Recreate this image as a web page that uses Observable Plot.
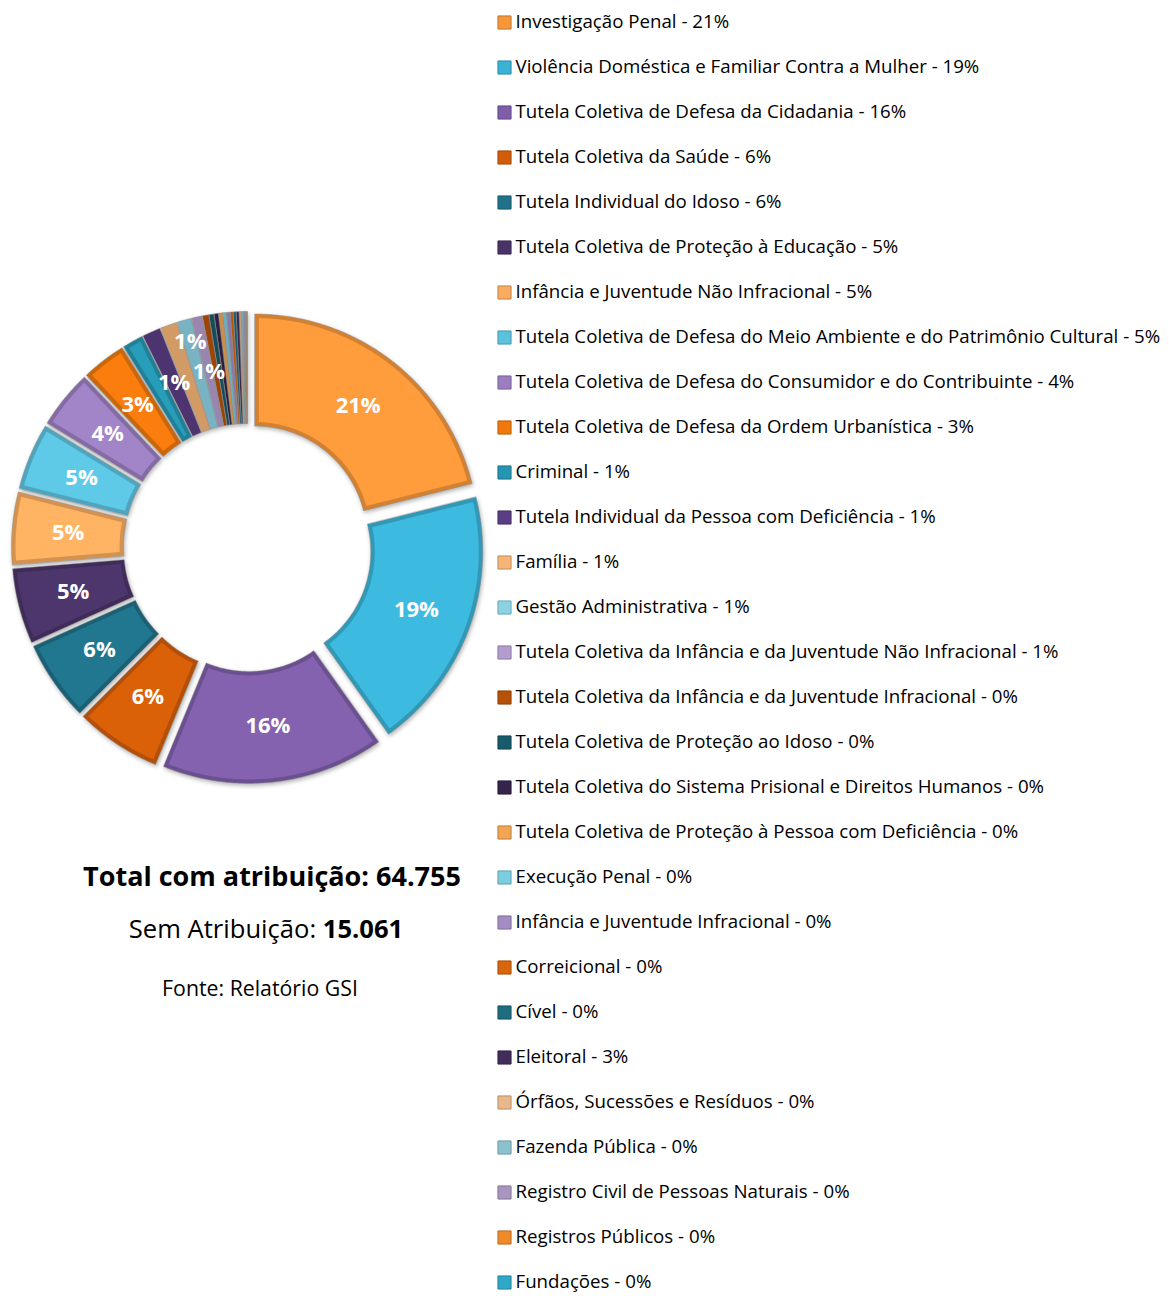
<!DOCTYPE html>
<html><head><meta charset="utf-8">
<script src="https://cdn.jsdelivr.net/npm/d3@7"></script>
<script src="https://cdn.jsdelivr.net/npm/@observablehq/plot@0.6"></script>
<style>
body{margin:0;background:#fff;}
#root{position:relative;width:1169px;height:1296px;overflow:hidden;background:#fff;font-family:"Open Sans",Lato,sans-serif;color:#000}
.cap{position:absolute;white-space:nowrap;transform:translateX(-50%);line-height:1}
</style></head><body>
<div id="root">
  <div id="donut" style="position:absolute;left:0;top:300px"></div>
  <div id="legend" style="position:absolute;left:490px;top:0"></div>
  <div class="cap" id="cap1" style="left:272px;top:862px;font-size:27px;font-weight:700"></div>
  <div class="cap" id="cap2" style="left:266px;top:916px;font-size:25.6px"></div>
  <div class="cap" id="cap3" style="left:260px;top:977px;font-size:21.3px"></div>
</div>
<script>
// ---- data ----
const categories = [
  "Investigação Penal",
  "Violência Doméstica e Familiar Contra a Mulher",
  "Tutela Coletiva de Defesa da Cidadania",
  "Tutela Coletiva da Saúde",
  "Tutela Individual do Idoso",
  "Tutela Coletiva de Proteção à Educação",
  "Infância e Juventude Não Infracional",
  "Tutela Coletiva de Defesa do Meio Ambiente e do Patrimônio Cultural",
  "Tutela Coletiva de Defesa do Consumidor e do Contribuinte",
  "Tutela Coletiva de Defesa da Ordem Urbanística",
  "Criminal",
  "Tutela Individual da Pessoa com Deficiência",
  "Família",
  "Gestão Administrativa",
  "Tutela Coletiva da Infância e da Juventude Não Infracional",
  "Tutela Coletiva da Infância e da Juventude Infracional",
  "Tutela Coletiva de Proteção ao Idoso",
  "Tutela Coletiva do Sistema Prisional e Direitos Humanos",
  "Tutela Coletiva de Proteção à Pessoa com Deficiência",
  "Execução Penal",
  "Infância e Juventude Infracional",
  "Correicional",
  "Cível",
  "Eleitoral",
  "Órfãos, Sucessões e Resíduos",
  "Fazenda Pública",
  "Registro Civil de Pessoas Naturais",
  "Registros Públicos",
  "Fundações"
];
const legendPercents = ["21%","19%","16%","6%","6%","5%","5%","5%","4%","3%","1%","1%","1%","1%","1%","0%","0%","0%","0%","0%","0%","0%","0%","3%","0%","0%","0%","0%","0%"];
// estimated shares (percent)
const sliceValues = [21.0,19.0,16.0,6.2,5.8,5.4,5.2,4.8,4.2,3.2,1.5,1.3,1.2,1.0,0.75,0.45,0.35,0.3,0.3,0.25,0.25,0.2,0.2,0.2,0.15,0.15,0.1,0.1,0.05];
const sliceLabels = ["21%","19%","16%","6%","6%","5%","5%","5%","4%","3%","","1%","","1%","1%","","","","","","","","","","","","","",""];
const palette = ["#F7963A","#3AB2D6","#7E5EA8","#D25D09","#1F7289","#4A3467","#F9AC5F","#5BC2DE","#9B7EC0",
  "#F0780C","#2596B2","#5A3D83","#F6B577","#8CD2E5","#B39DCF","#B85108","#175A6B","#35244B",
  "#F2A553","#7DCDE0","#A48DC4","#D9650C","#1E6C80","#412C5C","#E9B88A","#8CC2CF","#A996C0","#EE8A2A","#2FA8C8"];
const totalLine = ["Total com atribuição: ", "64.755"];
const semLine = ["Sem Atribuição: ", "15.061"];
const sourceLine = "Fonte: Relatório GSI";

// ---- captions ----
document.getElementById("cap1").textContent = totalLine.join("");
document.getElementById("cap2").innerHTML = semLine[0] + "<b>" + semLine[1] + "</b>";
document.getElementById("cap3").textContent = sourceLine;

// ---- donut geometry (unit radius) ----
const rows = categories.map((name, i) => ({name, value: sliceValues[i], color: palette[i], label: sliceLabels[i], pct: legendPercents[i]}));
const R = 1, RIN = 0.5, EXPL = 12 / 224, INSET = 4 / 224;
const arcs = d3.pie().sort(null).value(d => d.value)(rows);

function ringPolygon(a0o, a1o, a0i, a1i, rin, rout, mid, off) {
  const ox = off * Math.sin(mid), oy = -off * Math.cos(mid);
  const pts = [];
  const no = Math.max(2, Math.ceil((a1o - a0o) / (Math.PI / 360)));
  for (let k = 0; k <= no; k++) { const a = a0o + (a1o - a0o) * k / no; pts.push([ox + rout * Math.sin(a), oy - rout * Math.cos(a)]); }
  const ni = Math.max(2, Math.ceil((a1i - a0i) / (Math.PI / 360)));
  for (let k = ni; k >= 0; k--) { const a = a0i + (a1i - a0i) * k / ni; pts.push([ox + rin * Math.sin(a), oy - rin * Math.cos(a)]); }
  pts.push(pts[0]);
  return {type: "Polygon", coordinates: [pts]};
}

const slices = arcs.map(a => {
  const mid = (a.startAngle + a.endAngle) / 2;
  return {...a.data, mid, geom: ringPolygon(a.startAngle, a.endAngle, a.startAngle, a.endAngle, RIN, R, mid, EXPL),
    edge: d3.color(a.data.color).darker(0.45).formatHex()};
});
const inner = arcs.filter(a => (a.endAngle - a.startAngle) * (RIN + INSET) > 2.6 * INSET).map(a => {
  const mid = (a.startAngle + a.endAngle) / 2;
  const ro = R - INSET, ri = RIN + INSET;
  const g = ringPolygon(a.startAngle + INSET / ro, a.endAngle - INSET / ro, a.startAngle + INSET / ri, a.endAngle - INSET / ri, ri, ro, mid, EXPL);
  return {color: d3.color(a.data.color).brighter(0.12).formatHex(), geom: g};
});

// labels with simple collision push-out
const labelR = (R + RIN) / 2 + EXPL, outerR = 0.9 + EXPL, minDist = 30 / 224;
const placed = [];
for (const s of slices) {
  if (!s.label) continue;
  let p = [labelR * Math.sin(s.mid), -labelR * Math.cos(s.mid)];
  if (placed.some(q => Math.hypot(q.x - p[0], q.y - p[1]) < minDist)) p = [outerR * Math.sin(s.mid), -outerR * Math.cos(s.mid)];
  placed.push({x: p[0], y: p[1], label: s.label});
}

const D = 247 / 224;
const donut = Plot.plot({
  width: 494, height: 494, margin: 0,
  projection: {type: "identity", domain: {type: "MultiPoint", coordinates: [[-D, -D], [D, D]]}},
  color: {type: "identity"},
  marks: [
    Plot.geo(slices, {geometry: d => d.geom, fill: d => d.edge, stroke: "#8a8a8a", strokeWidth: 0.6, strokeOpacity: 0.8, imageFilter: "drop-shadow(1px 2px 2px rgba(0,0,0,0.3))"}),
    Plot.geo(inner, {geometry: d => d.geom, fill: d => d.color}),
    Plot.text(placed, {x: "x", y: "y", text: "label", fill: "white", fontWeight: "bold", fontSize: 22, fontFamily: "'Open Sans', sans-serif"})
  ]
});
document.getElementById("donut").appendChild(donut);

// ---- legend ----
const legendRows = rows.map(d => ({...d, edge: d3.color(d.color).darker(0.7).formatHex()}));
const legend = Plot.plot({
  width: 679, height: 1296, margin: 0,
  x: {domain: [0, 1], axis: null},
  y: {type: "point", domain: categories, range: [18.8, 1286], padding: 0, axis: null},
  color: {type: "identity"},
  marks: [
    Plot.dot(legendRows, {y: "name", frameAnchor: "left", dx: 14, symbol: "square", r: 7.4, fill: "color", stroke: "edge", strokeWidth: 1}),
    Plot.text(legendRows, {y: "name", frameAnchor: "left", dx: 25, textAnchor: "start", text: d => `${d.name} - ${d.pct}`, fontSize: 18.7, fill: "black", fontFamily: "'Open Sans', sans-serif"})
  ]
});
document.getElementById("legend").appendChild(legend);
</script>
</body></html>
